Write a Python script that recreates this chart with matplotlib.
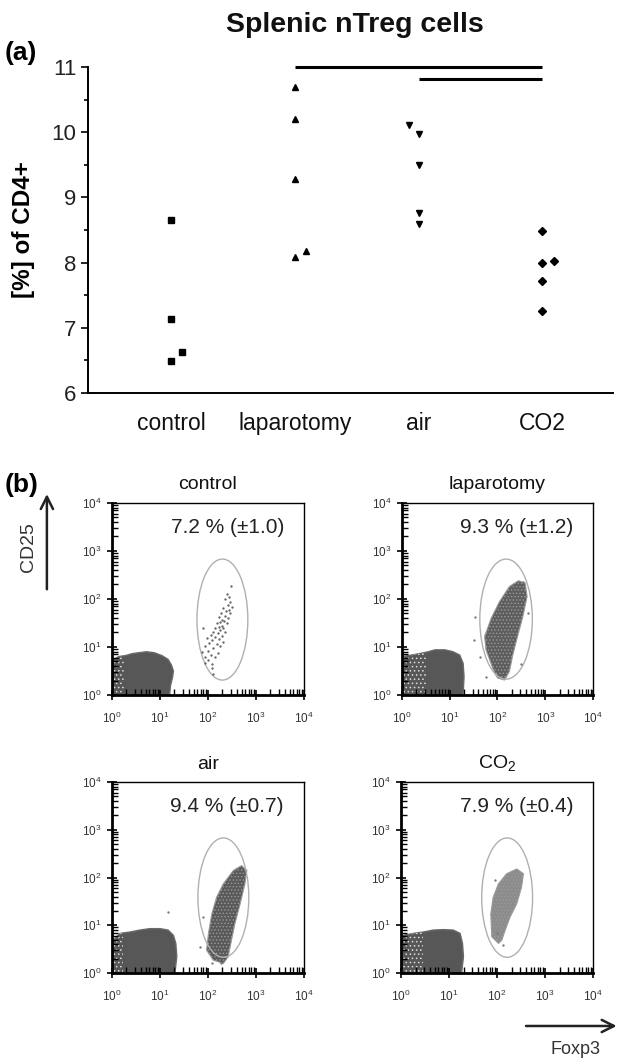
import numpy as np
import matplotlib
matplotlib.use('Agg')
import matplotlib.pyplot as plt
from matplotlib.patches import Ellipse, Polygon, FancyArrowPatch, Rectangle

plt.rcParams['font.family'] = ['Liberation Sans', 'DejaVu Sans']
plt.rcParams['mathtext.fontset'] = 'custom'
plt.rcParams['mathtext.rm'] = 'Liberation Sans'
plt.rcParams['hatch.linewidth'] = 0.6

# ---- panel (a) data: [%] of CD4+ per animal
groups = ['control', 'laparotomy', 'air', 'CO2']
control = [8.65, 7.14, 6.63, 6.49]
control_dx = [0, 0, 0.09, 0]
laparotomy = [10.70, 10.20, 9.28, 8.09, 8.18]
laparotomy_dx = [0, 0, 0, 0, 0.09]
air = [10.11, 9.97, 9.49, 8.76, 8.59]
air_dx = [-0.08, 0, 0, 0, 0]
co2 = [8.48, 8.00, 8.02, 7.72, 7.25]
co2_dx = [0, 0, 0.09, 0, 0]
markers = ['s', '^', 'v', 'D']
# significance bars: (from group, to group, level)
sig_bars = [(1, 3, 11.0), (2, 3, 10.81)]

# ---- panel (b) data: log10 units
facs_titles = ['control', 'laparotomy', 'air', 'CO$_2$']
facs_pct = ['7.2 % (\u00b11.0)', '9.3 % (\u00b11.2)', '9.4 % (\u00b10.7)', '7.9 % (\u00b10.4)']
# gate ellipse: centre x, centre y, width, height
gates = [(2.30, 1.57, 1.06, 2.52), (2.18, 1.58, 1.10, 2.50),
         (2.32, 1.58, 1.06, 2.50), (2.21, 1.58, 1.06, 2.50)]
# outline of the CD25-/Foxp3- population
neg_pop = [
    [(0, 0), (0, 0.72), (0.14, 0.80), (0.28, 0.82), (0.42, 0.86), (0.56, 0.88), (0.72, 0.90),
     (0.88, 0.88), (1.04, 0.82), (1.17, 0.74), (1.24, 0.62), (1.28, 0.50), (1.26, 0.36),
     (1.22, 0.20), (1.20, 0)],
    [(0, 0), (0, 0.80), (0.20, 0.83), (0.41, 0.87), (0.55, 0.90), (0.69, 0.94), (0.90, 0.94),
     (1.07, 0.90), (1.21, 0.83), (1.28, 0.66), (1.30, 0.38), (1.28, 0.03), (1.27, 0)],
    [(0, 0), (0, 0.60), (0.03, 0.69), (0.17, 0.83), (0.38, 0.86), (0.58, 0.90), (0.79, 0.93),
     (1.00, 0.93), (1.17, 0.90), (1.28, 0.79), (1.33, 0.62), (1.35, 0.34), (1.31, 0)],
    [(0, 0), (0, 0.75), (0.05, 0.79), (0.26, 0.83), (0.47, 0.86), (0.67, 0.90), (0.88, 0.91),
     (1.09, 0.90), (1.23, 0.83), (1.28, 0.62), (1.30, 0.34), (1.26, 0)],
]
# right edge of the sparse (speckled) left part of that population
neg_sparse_edge = [0.25, 0.50, 0.22, 0.45]
# outline of the CD25+/Foxp3+ population (control drawn as single events)
pos_pop = [
    None,
    [(1.94, 0.45), (1.76, 0.94), (1.73, 1.22), (1.87, 1.60), (2.04, 1.94), (2.25, 2.26),
     (2.44, 2.38), (2.58, 2.33), (2.62, 2.05), (2.53, 1.63), (2.42, 1.22), (2.32, 0.83),
     (2.25, 0.49), (2.15, 0.31), (2.01, 0.35)],
    [(1.97, 0.48), (2.01, 0.83), (2.08, 1.24), (2.18, 1.59), (2.32, 1.87), (2.53, 2.15),
     (2.70, 2.25), (2.81, 2.15), (2.77, 1.87), (2.67, 1.45), (2.56, 1.03), (2.49, 0.69),
     (2.42, 0.34), (2.32, 0.20), (2.11, 0.27)],
    [(1.89, 0.76), (1.87, 1.24), (1.92, 1.59), (2.03, 1.87), (2.20, 2.08), (2.41, 2.18),
     (2.55, 2.08), (2.51, 1.80), (2.41, 1.45), (2.27, 1.17), (2.17, 0.90), (2.10, 0.69),
     (2.03, 0.62)],
]
pos_shade = [None, '#5e5e5e', '#5a5a5a', '#8c8c8c']
ctrl_x = [2.48, 2.39, 2.44, 2.35, 2.46, 2.41, 2.49, 2.32, 2.44, 2.37, 2.27, 2.46, 2.35, 2.23,
          2.41, 2.30, 2.34, 2.25, 2.18, 2.39, 2.29, 2.22, 2.15, 2.32, 1.90, 2.25, 2.11, 2.35,
          2.20, 2.06, 2.29, 2.15, 1.97, 2.22, 2.09, 2.32, 2.02, 2.18, 1.94, 2.25, 2.11, 2.01,
          1.87, 2.20, 2.06, 1.94, 2.15, 1.99, 1.94, 2.08, 2.09, 2.11]
ctrl_y = [2.26, 2.10, 2.05, 1.99, 1.94, 1.88, 1.84, 1.81, 1.77, 1.74, 1.70, 1.70, 1.65, 1.62,
          1.60, 1.56, 1.53, 1.51, 1.49, 1.49, 1.44, 1.41, 1.39, 1.39, 1.39, 1.35, 1.32, 1.32,
          1.29, 1.25, 1.23, 1.20, 1.18, 1.16, 1.15, 1.11, 1.08, 1.06, 1.02, 1.01, 0.97, 0.92,
          0.90, 0.88, 0.83, 0.80, 0.79, 0.73, 0.67, 0.65, 0.56, 0.44]
# stray events outside the dense outline
stray_x = [[], [1.52, 1.50, 1.63, 1.76, 2.49, 2.63, 2.53],
           [1.17, 1.83, 2.08, 2.28, 1.90], [1.96, 2.12, 1.99]]
stray_y = [[], [1.62, 1.15, 0.80, 0.38, 0.65, 1.70, 2.36],
           [1.28, 0.55, 0.20, 0.20, 1.17], [1.94, 0.58, 0.83]]

fig = plt.figure(figsize=(6.17, 10.61), dpi=100)

# ================= panel (a)
ax = fig.add_axes([0.1426, 0.6296, 0.8509, 0.3073])
series = [(control, control_dx), (laparotomy, laparotomy_dx), (air, air_dx), (co2, co2_dx)]
for i, (vals, dx) in enumerate(series):
    xs = [i + d for d in dx]
    ms = 5 if markers[i] != 'D' else 3.8
    ax.plot(xs, vals, linestyle='none', marker=markers[i], color='black', markersize=ms)
for a, b, lev in sig_bars:
    ax.plot([a, b], [lev, lev], color='black', lw=2.2, clip_on=False, solid_capstyle='butt')
ax.set_xlim(-0.67, 3.57)
ax.set_ylim(6, 11)
ax.set_yticks([6, 7, 8, 9, 10, 11])
ax.set_yticks(np.arange(6.5, 11, 1), minor=True)
ax.set_xticks(range(4))
ax.set_xticklabels(groups)
ax.tick_params(axis='x', length=0, pad=14, labelsize=16.5, labelcolor='#111111')
ax.tick_params(axis='y', which='major', length=5, width=1.2, labelsize=16, labelcolor='#222222')
ax.tick_params(axis='y', which='minor', length=3, width=1.2)
for s in ['top', 'right']:
    ax.spines[s].set_visible(False)
for s in ['left', 'bottom']:
    ax.spines[s].set_linewidth(1.4)
ax.set_ylabel('[%] of CD4+', fontsize=17.5, fontweight='bold', labelpad=12)
fig.text(0.575, 0.976, 'Splenic nTreg cells', ha='center', va='center', fontsize=20.5,
         fontweight='bold', color='#111111')
fig.text(0.008, 0.950, '(a)', ha='left', va='center', fontsize=19, fontweight='bold')

# ================= panel (b)
boxes = [[0.1815, 0.345, 0.3112, 0.181], [0.6515, 0.345, 0.3096, 0.181],
         [0.1815, 0.0829, 0.3112, 0.180], [0.650, 0.0829, 0.3112, 0.180]]
minor_locs = [d + np.log10(k) for d in range(4) for k in range(2, 10)]
dec_labels = ['$10^{%d}$' % d for d in range(5)]
for i in range(4):
    fx = fig.add_axes(boxes[i])
    fx.add_patch(Polygon(neg_pop[i], closed=True, facecolor='#575757', edgecolor='#6a6a6a', lw=1.0))
    # speckled left part of the negative population
    speck = Polygon(neg_pop[i], closed=True, facecolor='none', edgecolor='#dcdcdc', lw=0,
                    hatch='....')
    fx.add_patch(speck)
    speck.set_clip_path(Rectangle((0, 0), neg_sparse_edge[i], 1.2, transform=fx.transData))
    if pos_pop[i] is None:
        fx.plot(ctrl_x, ctrl_y, linestyle='none', marker='o', markersize=1.7,
                color='#666666', markeredgewidth=0)
    else:
        fx.add_patch(Polygon(pos_pop[i], closed=True, facecolor=pos_shade[i],
                             edgecolor='#9a9a9a', lw=0.8, hatch='.....'))
    fx.plot(stray_x[i], stray_y[i], linestyle='none', marker='o', markersize=1.7,
            color='#777777', markeredgewidth=0)
    cx, cy, w, h = gates[i]
    fx.add_patch(Ellipse((cx, cy), w, h, facecolor='none', edgecolor='#b0b0b0', lw=1.0))
    fx.set_xlim(0, 4)
    fx.set_ylim(0, 4)
    fx.set_xticks(range(5))
    fx.set_yticks(range(5))
    fx.set_xticks(minor_locs, minor=True)
    fx.set_yticks(minor_locs, minor=True)
    fx.set_xticklabels(dec_labels)
    fx.set_yticklabels(dec_labels)
    fx.tick_params(which='major', direction='inout', length=7, width=1.2, labelsize=8.5,
                   colors='black', labelcolor='#333333')
    fx.tick_params(which='minor', direction='in', length=4, width=1.0)
    fx.tick_params(axis='x', pad=8)
    fx.tick_params(axis='y', pad=4)
    for s in ['left', 'bottom']:
        fx.spines[s].set_linewidth(2.0)
    for s in ['top', 'right']:
        fx.spines[s].set_linewidth(1.0)
    fx.text(0.6, 0.87, facs_pct[i], transform=fx.transAxes, ha='center', va='center',
            fontsize=15, color='#222222')
    fx.text(0.5, 1.07, facs_titles[i], transform=fx.transAxes, ha='center', va='baseline',
            fontsize=14, color='#111111')

fig.text(0.008, 0.543, '(b)', ha='left', va='center', fontsize=19, fontweight='bold')
fig.text(0.046, 0.4845, 'CD25', rotation=90, ha='center', va='center', fontsize=14, color='#333333')
fig.add_artist(FancyArrowPatch((0.076, 0.442), (0.076, 0.537), transform=fig.transFigure,
                               arrowstyle='->', mutation_scale=22, lw=1.8, color='#222222'))
fig.add_artist(FancyArrowPatch((0.848, 0.033), (1.004, 0.033), transform=fig.transFigure,
                               arrowstyle='->', mutation_scale=22, lw=1.8, color='#222222'))
fig.text(0.932, 0.0104, 'Foxp3', ha='center', va='center', fontsize=13, color='#333333')

fig.savefig('out.png', dpi=100)
